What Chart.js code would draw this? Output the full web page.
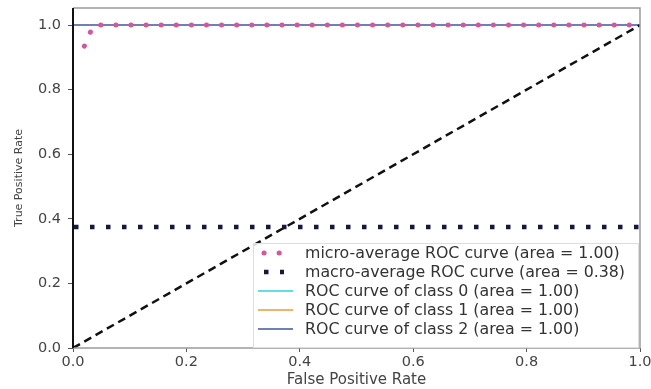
<!DOCTYPE html>
<html>
<head>
<meta charset="utf-8">
<script src="https://cdn.jsdelivr.net/npm/chart.js@4/dist/chart.umd.min.js"></script>
<style>
  html, body { margin: 0; padding: 0; background: #fff; }
  #wrap { width: 651px; height: 389px; }
</style>
</head>
<body>
<div id="wrap"><canvas id="rocChart" width="651" height="389"></canvas></div>
<script>
// tick labels
const xTicks = [0.0, 0.2, 0.4, 0.6, 0.8, 1.0];
const yTicks = [0.0, 0.2, 0.4, 0.6, 0.8, 1.0];

// series (fpr / tpr)
const microFpr = [0.02, 0.036, 1.0];
const microTpr = [0.935, 1.0, 1.0];
const macroFpr = [0.0, 1.0];
const macroTpr = [0.375, 0.375];
const class0Fpr = [0.0, 0.0, 1.0];
const class0Tpr = [0.0, 1.0, 1.0];
const class1Fpr = [0.0, 0.0, 1.0];
const class1Tpr = [0.0, 1.0, 1.0];
const class2Fpr = [0.0, 0.0, 1.0];
const class2Tpr = [0.0, 1.0, 1.0];
const chanceFpr = [0.0, 1.0];
const chanceTpr = [0.0, 1.0];

const seriesLabels = [
  "micro-average ROC curve (area = 1.00)",
  "macro-average ROC curve (area = 0.38)",
  "ROC curve of class 0 (area = 1.00)",
  "ROC curve of class 1 (area = 1.00)",
  "ROC curve of class 2 (area = 1.00)"
];

function pts(xs, ys) {
  return xs.map((x, i) => ({ x: x, y: ys[i] }));
}

const FONT = "'DejaVu Sans', sans-serif";

// frame drawn over the lines, like matplotlib spines
const framePlugin = {
  id: "frame",
  afterDatasetsDraw(chart) {
    const { ctx, chartArea: a } = chart;
    ctx.save();
    ctx.lineWidth = 1.5;
    ctx.strokeStyle = "#9a9a9a";
    ctx.beginPath();
    ctx.moveTo(a.left, a.top); ctx.lineTo(a.right, a.top);
    ctx.lineTo(a.right, a.bottom); ctx.lineTo(a.left, a.bottom);
    ctx.stroke();
    ctx.strokeStyle = "#111";
    ctx.lineWidth = 2;
    ctx.beginPath();
    ctx.moveTo(a.left, a.top); ctx.lineTo(a.left, a.bottom);
    ctx.stroke();
    ctx.restore();
  }
};

// legend in the lower right corner of the plot
const innerLegend = {
  id: "innerLegend",
  afterDraw(chart) {
    const { ctx, chartArea: a } = chart;
    const sets = chart.data.datasets.filter(d => d.inLegend);
    const rowH = 19;
    const boxW = 385, boxH = sets.length * rowH + 10;
    const bx = a.right - boxW - 2, by = a.bottom - boxH;
    ctx.save();
    ctx.fillStyle = "rgba(255,255,255,0.85)";
    ctx.strokeStyle = "#dedede";
    ctx.lineWidth = 1;
    ctx.fillRect(bx, by, boxW, boxH);
    ctx.strokeRect(bx + 0.5, by + 0.5, boxW, boxH - 1);
    ctx.font = "15.8px " + FONT;
    ctx.textBaseline = "middle";
    sets.forEach((d, i) => {
      const y = by + 10 + i * rowH;
      const dotted = !!d.borderDash;
      ctx.strokeStyle = d.borderColor;
      ctx.lineWidth = d.borderWidth;
      ctx.lineCap = d.borderCapStyle || "butt";
      ctx.setLineDash(d.borderDash || []);
      ctx.lineDashOffset = 0;
      ctx.beginPath();
      ctx.moveTo(bx + (dotted ? 11 : 5), y);
      ctx.lineTo(bx + (dotted ? 31 : 40), y);
      ctx.stroke();
      ctx.setLineDash([]);
      ctx.fillStyle = "#333";
      ctx.fillText(d.label, bx + 52, y + 1);
    });
    ctx.restore();
  }
};

const ctx = document.getElementById("rocChart");
new Chart(ctx, {
  type: "line",
  data: {
    datasets: [
      {
        label: seriesLabels[0], inLegend: true, order: 0,
        data: pts(microFpr, microTpr),
        borderColor: "#d8559a", borderWidth: 5,
        borderDash: [0.1, 15], borderCapStyle: "round"
      },
      {
        label: seriesLabels[1], inLegend: true, order: 1,
        data: pts(macroFpr, macroTpr),
        borderColor: "#16163e", borderWidth: 4.5,
        borderDash: [4.5, 11.5], borderDashOffset: -1
      },
      {
        label: seriesLabels[2], inLegend: true, order: 4,
        data: pts(class0Fpr, class0Tpr),
        borderColor: "#66dede", borderWidth: 2
      },
      {
        label: seriesLabels[3], inLegend: true, order: 3,
        data: pts(class1Fpr, class1Tpr),
        borderColor: "#f0b468", borderWidth: 2
      },
      {
        label: seriesLabels[4], inLegend: true, order: 2,
        data: pts(class2Fpr, class2Tpr),
        borderColor: "#7080b0", borderWidth: 2
      },
      {
        label: "chance", inLegend: false, order: 0.5,
        data: pts(chanceFpr, chanceTpr),
        borderColor: "#111", borderWidth: 2.5,
        borderDash: [8, 5]
      }
    ]
  },
  options: {
    responsive: false,
    animation: false,
    layout: { padding: { top: 8, right: 11, left: 0, bottom: 0 } },
    elements: { point: { radius: 0 }, line: { tension: 0 } },
    plugins: { legend: { display: false }, tooltip: { enabled: false } },
    scales: {
      x: {
        type: "linear", min: 0, max: 1,
        afterBuildTicks: s => { s.ticks = xTicks.map(v => ({ value: v })); },
        afterFit: s => { s.height = 41; s.paddingLeft = 0; s.paddingRight = 0; },
        border: { display: false },
        grid: { drawOnChartArea: false, tickLength: 4, color: "#555", tickWidth: 1 },
        ticks: {
          color: "#444", padding: 2, maxRotation: 0,
          font: { family: FONT, size: 14.5 },
          callback: v => Number(v).toFixed(1)
        },
        title: {
          display: true, text: "False Positive Rate", color: "#444",
          font: { family: FONT, size: 15 }, padding: { top: 0, bottom: 0 }
        }
      },
      y: {
        type: "linear", min: 0, max: 1.053,
        afterBuildTicks: s => { s.ticks = yTicks.map(v => ({ value: v })); },
        afterFit: s => { s.width = 73; s.paddingTop = 0; s.paddingBottom = 0; },
        border: { display: false },
        grid: { drawOnChartArea: false, tickLength: 5, color: "#555", tickWidth: 1 },
        ticks: {
          color: "#444", padding: 7,
          font: { family: FONT, size: 14.5 },
          callback: v => Number(v).toFixed(1)
        },
        title: {
          display: true, text: "True Positive Rate", color: "#444",
          font: { family: FONT, size: 11 }, padding: { top: 13, bottom: 0 }
        }
      }
    }
  },
  plugins: [framePlugin, innerLegend]
});
</script>
</body>
</html>
